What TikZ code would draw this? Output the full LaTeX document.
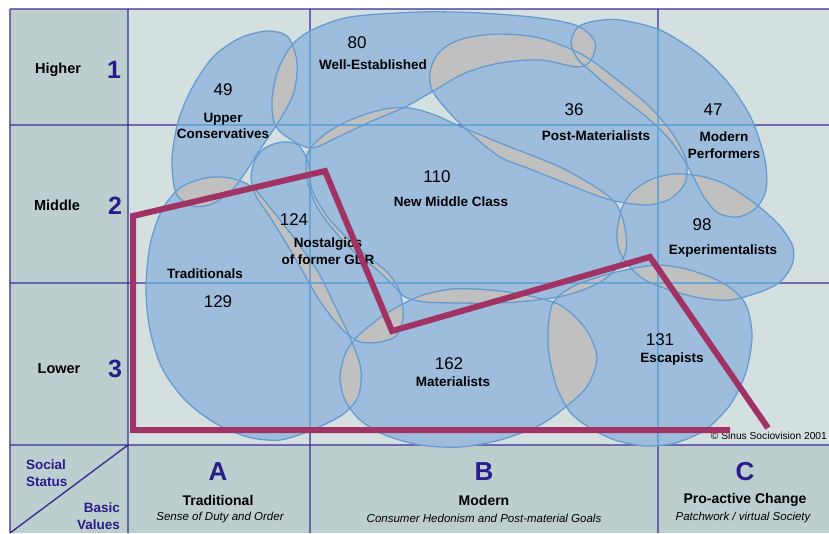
\documentclass[tikz,border=0pt]{standalone}
\usepackage{fontspec}
\setmainfont{Liberation Sans}
\usetikzlibrary{calc}
\definecolor{fieldlight}{RGB}{212,224,224}
\definecolor{fielddark}{RGB}{188,206,206}
\definecolor{gridpurple}{RGB}{60,44,150}
\definecolor{headpurple}{RGB}{42,28,140}
\definecolor{milieublue}{RGB}{158,189,220}
\definecolor{rimblue}{RGB}{100,156,210}
\definecolor{gridblue}{RGB}{104,166,214}
\definecolor{overlapgray}{RGB}{192,192,192}
\definecolor{zonered}{RGB}{160,50,100}
\newcommand\mUC[1]{\path[#1] plot[smooth cycle] coordinates {(172,160) (178,122) (192,88) (213,57) (240,38) (268,31) (288,37) (297,62) (294,92) (281,118) (263,145) (247,170) (232,190) (212,204) (192,206) (176,193)};}
\newcommand\mWE[1]{\path[#1] plot[smooth cycle] coordinates {(275,125) (272,100) (278,70) (292,45) (312,30) (350,17) (420,12) (480,13) (540,18) (578,26) (595,42) (591,60) (578,67) (540,60) (500,63) (465,73) (435,90) (405,107) (372,121) (340,136) (312,148) (290,139)};}
\newcommand\mPM[1]{\path[#1] plot[smooth cycle] coordinates {(432,90) (430,72) (437,55) (450,44) (470,37) (500,34) (540,38) (583,55) (620,82) (650,107) (672,133) (686,160) (685,183) (670,199) (648,205) (620,202) (598,196) (560,181) (530,169) (500,157) (470,133) (447,110)};}
\newcommand\mMP[1]{\path[#1] plot[smooth cycle] coordinates {(571,42) (578,27) (595,21) (620,20) (660,30) (700,55) (730,85) (752,120) (765,160) (766,190) (756,208) (738,217) (718,213) (704,197) (694,178) (684,160) (670,140) (650,120) (620,96) (595,75) (577,58)};}
\newcommand\mNMC[1]{\path[#1] plot[smooth cycle] coordinates {(308,152) (328,132) (355,118) (385,109) (410,108) (435,115) (457,125) (500,143) (560,167) (600,190) (617,205) (625,228) (626,250) (617,268) (597,284) (567,295) (537,300) (500,303) (460,303) (425,302) (405,297) (393,285) (375,268) (350,248) (328,223) (315,203) (307,178)};}
\newcommand\mTR[1]{\path[#1] plot[smooth cycle] coordinates {(146,290) (150,245) (162,210) (180,188) (205,178) (230,178) (252,187) (272,210) (297,242) (318,272) (336,308) (352,342) (361,370) (358,397) (342,415) (312,430) (280,440) (248,437) (215,423) (185,400) (162,368) (150,330)};}
\newcommand\mNOS[1]{\path[#1] plot[smooth cycle] coordinates {(251,178) (255,160) (265,148) (282,142) (298,145) (308,162) (312,190) (330,220) (360,250) (387,272) (400,292) (403,318) (396,336) (380,342) (360,342) (345,332) (330,315) (316,295) (302,270) (286,243) (270,217) (256,196)};}
\newcommand\mMAT[1]{\path[#1] plot[smooth cycle] coordinates {(340,377) (346,352) (360,334) (387,313) (420,296) (453,289) (490,290) (525,295) (560,305) (585,328) (597,357) (588,385) (568,405) (540,425) (500,440) (460,447) (420,445) (385,435) (360,420) (345,400)};}
\newcommand\mESC[1]{\path[#1] plot[smooth cycle] coordinates {(548,345) (552,305) (572,287) (605,275) (635,268) (660,265) (690,270) (723,283) (745,303) (752,335) (746,372) (730,405) (705,430) (675,443) (645,446) (615,440) (590,428) (570,412) (556,385)};}
\newcommand\mEXP[1]{\path[#1] plot[smooth cycle] coordinates {(617,232) (622,208) (632,192) (650,180) (673,174) (700,176) (727,185) (757,205) (780,226) (793,247) (792,265) (780,282) (760,292) (730,300) (700,298) (670,290) (645,280) (628,265) (619,250)};}
\def\milieus{\mUC,\mWE,\mPM,\mMP,\mNMC,\mTR,\mNOS,\mMAT,\mESC,\mEXP}
\begin{document}
\begin{tikzpicture}[x=1pt,y=-1pt,
  gridline/.style={draw=gridpurple,line width=1.4pt},
  innergrid/.style={draw=gridblue,line width=1.1pt},
  rim/.style={draw=rimblue,line width=1.3pt},
  milname/.style={font=\fontsize{13.5}{16.5}\selectfont\bfseries,align=center,inner sep=0pt},
  sizenum/.style={font=\fontsize{17}{20}\selectfont,inner sep=0pt},
  statusname/.style={font=\fontsize{14.5}{17}\selectfont\bfseries,inner sep=0pt},
  digit/.style={font=\fontsize{25}{28}\selectfont\bfseries,text=headpurple,inner sep=0pt},
  axisname/.style={font=\fontsize{13.5}{17}\selectfont\bfseries,text=headpurple,inner sep=0pt},
  basicval/.style={font=\fontsize{14}{17}\selectfont\bfseries,inner sep=0pt},
  motto/.style={font=\fontsize{11.5}{14}\selectfont\itshape,inner sep=0pt},
  zone/.style={draw=zonered,line width=6pt,miter limit=20}]
\useasboundingbox (0,0) rectangle (829,533);
\fill[white] (0,0) rectangle (829,533);
\fill[fielddark] (10,9) rectangle (829,533);
\fill[fieldlight] (128,9) rectangle (829,445);
\draw[gridline] (10,9) -- (829,9) (10,9) -- (10,533)
  (128,9) -- (128,533) (310,9) -- (310,533) (658,9) -- (658,533)
  (10,125) -- (829,125) (10,283) -- (829,283) (10,445) -- (829,445)
  (10,533) -- (128,445);
\foreach \sa in \milieus {\sa{fill=milieublue}}
\foreach \sa [count=\na] in \milieus {
  \foreach \sb [count=\nb] in \milieus {
    \ifnum\na<\nb
      \begin{scope}
        \sa{clip}
        \sb{fill=overlapgray}
      \end{scope}
    \fi
  }
}
\foreach \sa in \milieus {
  \begin{scope}
    \sa{clip}
    \draw[innergrid] (310,9) -- (310,445) (658,9) -- (658,445)
      (128,125) -- (829,125) (128,283) -- (829,283);
  \end{scope}
}
\foreach \sa in \milieus {\sa{rim}}

\node[statusname] (higher) at (58,70) {Higher};
\node[digit] (one) at (114,70) {1};
\node[statusname] (middle) at (57,205) {Middle};
\node[digit] (two) at (115,206) {2};
\node[statusname] (lower) at (59,369) {Lower};
\node[digit] (three) at (115,369) {3};
\node[axisname,align=left,anchor=west] (status) at (26,473) {Social\\Status};
\node[axisname,align=right,anchor=east] (values) at (120,516) {Basic\\Values};

\node[digit,font=\fontsize{26}{28}\selectfont\bfseries] (colA) at (218,472) {A};
\node[basicval] (tradA) at (218,500) {Traditional};
\node[motto] (mottoA) at (220,518) {Sense of Duty and Order};
\node[digit,font=\fontsize{26}{28}\selectfont\bfseries] (colB) at (484,472) {B};
\node[basicval] (modB) at (484,500) {Modern};
\node[motto] (mottoB) at (484,518) {Consumer Hedonism and Post-material Goals};
\node[digit,font=\fontsize{26}{28}\selectfont\bfseries] (colC) at (745,472) {C};
\node[basicval] (proC) at (745,500) {Pro-active Change};
\node[motto] (mottoC) at (743,518) {Patchwork / virtual Society};

\node[sizenum] (nUC) at (223,90) {49};
\node[milname] (UC) at (223,126) {Upper\\Conservatives};
\node[sizenum] (nWE) at (357,43) {80};
\node[milname] (WE) at (373,65) {Well-Established};
\node[sizenum] (nPM) at (574,110) {36};
\node[milname] (PM) at (596,136) {Post-Materialists};
\node[sizenum] (nMP) at (713,110) {47};
\node[milname] (MP) at (724,145) {Modern\\Performers};
\node[sizenum] (nNMC) at (437,177) {110};
\node[milname] (NMC) at (451,202) {New Middle Class};
\node[sizenum] (nNOS) at (294,220) {124};
\node[milname] (NOS) at (328,251) {Nostalgics\\of former GDR};
\node[milname] (TR) at (205,274) {Traditionals};
\node[sizenum] (nTR) at (218,302) {129};
\node[sizenum] (nEXP) at (702,225) {98};
\node[milname] (EXP) at (723,251) {Experimentalists};
\node[sizenum] (nMAT) at (449,364) {162};
\node[milname] (MAT) at (453,382) {Materialists};
\node[sizenum] (nESC) at (660,340) {131};
\node[milname] (ESC) at (672,359) {Escapists};
\node[font=\fontsize{10.2}{12}\selectfont,inner sep=0pt,anchor=east] (copy) at (827,436) {© Sinus Sociovision 2001};

\draw[zone] (730,430) -- (133,430) -- (133,216) -- (325,171) -- (392,331) -- (650,257) -- (768,428);
\end{tikzpicture}
\end{document}
